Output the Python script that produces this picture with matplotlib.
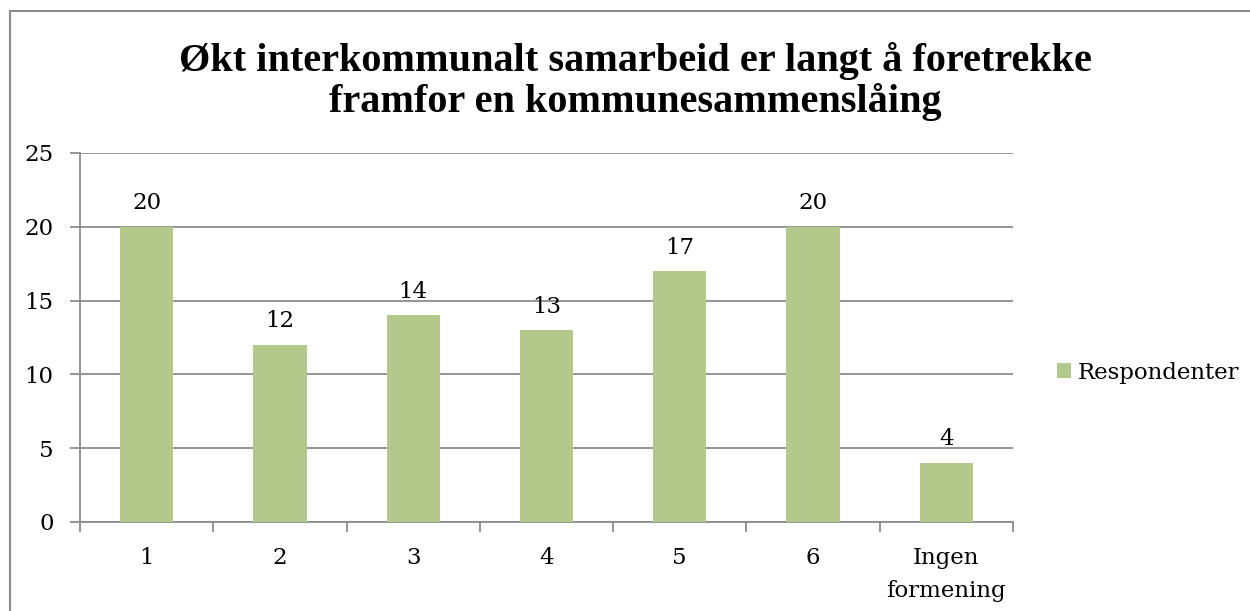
import numpy as np
import matplotlib
matplotlib.use('Agg')
from matplotlib import pyplot as plt
from matplotlib.patches import Rectangle

categories = ['1', '2', '3', '4', '5', '6', 'Ingen\nformening']
values = [20, 12, 14, 13, 17, 20, 4]
yticks = [0, 5, 10, 15, 20, 25]

title = 'Økt interkommunalt samarbeid er langt å foretrekke\nframfor en kommunesammenslåing'
series_name = 'Respondenter'

BAR = '#B3C98C'
GRID = '#8C8C8C'
FS = 16.5
plt.rcParams['font.family'] = ['DejaVu Serif']

fig = plt.figure(figsize=(12.5, 6.11), dpi=100)
fig.patches.append(Rectangle((10 / 1250, -0.1), 1.2, 1.1 - 11 / 611,
                             transform=fig.transFigure, fill=False,
                             edgecolor='#8C8C8C', lw=1.5))
ax = fig.add_axes([0.064, 0.1457, 0.7464, 0.6039])

x = np.arange(len(categories))
bars = ax.bar(x, values, width=0.4, color=BAR, label=series_name, zorder=3)
for xi, v in zip(x, values):
    ax.annotate(str(v), (xi, v), xytext=(0, 9), textcoords='offset points',
                ha='center', va='bottom', fontsize=FS)

ax.set_xlim(-0.5, len(categories) - 0.5)
ax.set_ylim(0, 25)
ax.set_yticks(yticks)
ax.set_yticklabels([str(t) for t in yticks], fontsize=FS)
ax.yaxis.grid(True, color=GRID, lw=1.3, zorder=0)
ax.set_xticks(np.arange(-0.5, len(categories)), minor=False)
ax.set_xticklabels([])
ax.set_xticks(x, minor=True)
ax.set_xticklabels(categories, minor=True, fontsize=FS, linespacing=1.65)
ax.tick_params(axis='x', which='minor', length=0, pad=18)
ax.tick_params(axis='x', which='major', length=7, width=1.3, color=GRID)
ax.tick_params(axis='y', length=7, width=1.3, color=GRID, pad=12)

for s in ['top', 'right']:
    ax.spines[s].set_visible(False)
for s in ['left', 'bottom']:
    ax.spines[s].set_color(GRID)
    ax.spines[s].set_linewidth(1.3)

fig.text(0.508, 0.866, title, ha='center', va='center', fontsize=29,
         fontfamily='Liberation Serif', fontweight='bold', linespacing=1.1)

fig.legend(handles=[bars], labels=[series_name], loc='center left',
           bbox_to_anchor=(0.829, 0.39), frameon=False, fontsize=FS,
           handlelength=0.6, handleheight=0.6, handletextpad=0.3)

fig.savefig('out.png', dpi=100)
